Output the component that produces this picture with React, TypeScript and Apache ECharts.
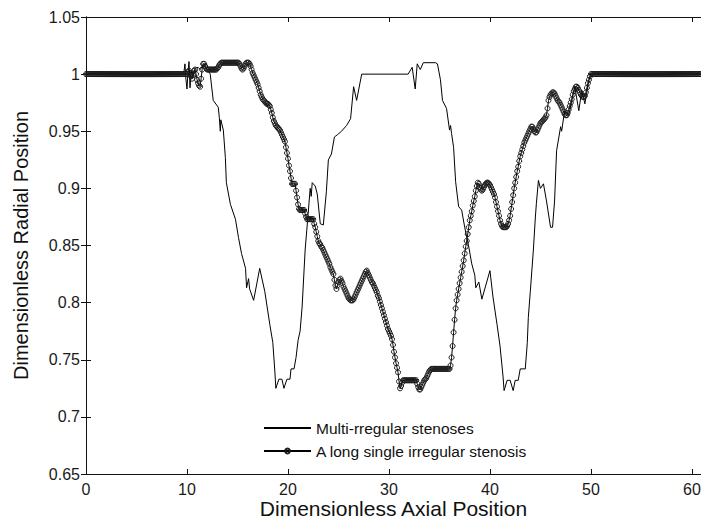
import React, { useEffect, useRef } from "react";
import * as echarts from "echarts";

// ---------- data ----------
const xTicks = [0, 10, 20, 30, 40, 50, 60];
const yTicks = [0.65, 0.7, 0.75, 0.8, 0.85, 0.9, 0.95, 1, 1.05];

const seriesNames = ["Multi-rregular stenoses", "A long single irregular stenosis"];

// Multi-irregular stenoses: read keypoints [x, y]
const multiX = [
  0, 9.6, 9.7, 9.8, 9.9, 10.0, 10.1, 10.2, 10.3, 10.4, 10.5, 10.6, 10.8, 11.1, 11.3, 11.6, 11.8, 12.1, 12.3, 12.6,
  13.1, 13.2, 13.3, 13.35, 13.6, 13.8, 13.9, 14.3, 14.8, 15.1, 15.4, 15.8, 15.9, 16.1, 16.2, 16.6, 17.2, 17.7, 18.2, 18.5,
  18.7, 18.8, 19.1, 19.4, 19.6, 19.9, 20.2, 20.3, 20.6, 20.8, 21.0, 21.2, 21.4, 21.7, 22.0, 22.2, 22.3, 22.4, 22.7, 22.9,
  23.2, 23.5, 23.8, 24.0, 24.3, 24.6, 24.9, 25.3, 25.8, 26.2, 26.5, 26.8, 27.3, 31.9, 32.3, 32.6, 32.8, 33.1, 33.4, 34.6,
  34.8, 35.1, 35.3, 35.7, 36.0, 36.1, 36.2, 36.4, 36.6, 36.9, 37.2, 37.5, 37.9, 38.2, 38.5, 38.6, 38.9, 39.2, 40.0, 40.3,
  40.7, 41.0, 41.3, 41.4, 41.7, 42.0, 42.3, 42.5, 42.8, 43.0, 43.5, 43.7, 43.8, 44.0, 44.3, 44.5, 44.6, 44.8, 45.0, 45.3,
  45.6, 46.0, 46.2, 46.4, 46.6, 47.0, 47.1, 47.4, 47.8, 48.4, 48.8, 49.1, 49.4, 49.8, 50.1, 60.9,
];
const multiY = [
  1, 1, 1.002, 1.009, 0.995, 0.987, 1.002, 1.011, 0.988, 1.0, 1.003, 0.998, 1.005, 1.006, 1.004, 1.008, 1.006, 1.003, 1.0, 0.977,
  0.971, 0.962, 0.95, 0.96, 0.951, 0.927, 0.905, 0.886, 0.873, 0.857, 0.843, 0.83, 0.813, 0.821, 0.812, 0.802, 0.83, 0.81, 0.781, 0.765,
  0.74, 0.725, 0.733, 0.733, 0.725, 0.733, 0.733, 0.742, 0.742, 0.752, 0.767, 0.775, 0.796, 0.846, 0.878, 0.9, 0.893, 0.905, 0.902, 0.895,
  0.869, 0.868, 0.897, 0.925, 0.93, 0.945, 0.947, 0.95, 0.955, 0.961, 0.989, 0.977, 1.0, 1.0, 1.006, 0.987, 1.009, 1.004, 1.01, 1.01,
  1.009, 0.995, 0.977, 0.97, 0.951, 0.955, 0.948, 0.936, 0.906, 0.884, 0.881, 0.866, 0.849, 0.834, 0.824, 0.813, 0.818, 0.803, 0.828, 0.805,
  0.781, 0.762, 0.735, 0.723, 0.732, 0.732, 0.723, 0.732, 0.732, 0.742, 0.742, 0.765, 0.787, 0.81, 0.846, 0.875, 0.887, 0.907, 0.9, 0.904,
  0.889, 0.866, 0.866, 0.889, 0.933, 0.954, 0.95, 0.968, 0.964, 0.989, 0.968, 0.986, 0.974, 0.995, 1.0, 1.0,
];

// Long single irregular stenosis: sampled every 0.1 from x = 0
const singleStep = 0.1;
const singleLeftFlat = [
  1, 1, 1, 1, 1, 1, 1, 1, 1, 1,
  1, 1, 1, 1, 1, 1, 1, 1, 1, 1,
  1, 1, 1, 1, 1, 1, 1, 1, 1, 1,
  1, 1, 1, 1, 1, 1, 1, 1, 1, 1,
  1, 1, 1, 1, 1, 1, 1, 1, 1, 1,
  1, 1, 1, 1, 1, 1, 1, 1, 1, 1,
  1, 1, 1, 1, 1, 1, 1, 1, 1, 1,
  1, 1, 1, 1, 1, 1, 1, 1, 1, 1,
  1, 1, 1, 1, 1, 1, 1, 1, 1, 1,
  1, 1, 1, 1, 1, 1, 1, 1, 1, 1,
]; // x 0.0 – 9.9
const singleMiddle = [
  1.000, 1.002, 1.003, 1.001, 0.998, 0.996, 0.999, 1.003, 1.004, 1.000,
  0.995, 0.992, 0.990, 0.989, 0.996, 1.004, 1.009, 1.009, 1.007, 1.005,
  1.004, 1.004, 1.004, 1.004, 1.004, 1.004, 1.004, 1.004, 1.004, 1.004,
  1.005, 1.006, 1.008, 1.009, 1.010, 1.010, 1.010, 1.010, 1.010, 1.010,
  1.010, 1.010, 1.010, 1.010, 1.010, 1.010, 1.010, 1.010, 1.010, 1.010,
  1.010, 1.010, 1.009, 1.007, 1.005, 1.004, 1.005, 1.007, 1.009, 1.010,
  1.010, 1.010, 1.009, 1.007, 1.004, 1.001, 0.999, 0.997, 0.995, 0.993,
  0.991, 0.988, 0.985, 0.982, 0.980, 0.978, 0.977, 0.976, 0.975, 0.974,
  0.974, 0.973, 0.972, 0.969, 0.966, 0.962, 0.959, 0.957, 0.955, 0.954,
  0.953, 0.952, 0.951, 0.949, 0.947, 0.945, 0.943, 0.941, 0.936, 0.931,
  0.926, 0.920, 0.915, 0.909, 0.904, 0.904, 0.904, 0.904, 0.898, 0.892,
  0.886, 0.882, 0.881, 0.881, 0.881, 0.881, 0.881, 0.878, 0.875, 0.873,
  0.873, 0.873, 0.873, 0.873, 0.873, 0.873, 0.869, 0.866, 0.862, 0.858,
  0.854, 0.852, 0.851, 0.849, 0.848, 0.846, 0.844, 0.842, 0.840, 0.838,
  0.836, 0.834, 0.831, 0.829, 0.827, 0.825, 0.820, 0.815, 0.812, 0.815,
  0.818, 0.820, 0.821, 0.819, 0.817, 0.814, 0.812, 0.810, 0.808, 0.806,
  0.804, 0.803, 0.802, 0.802, 0.802, 0.803, 0.805, 0.807, 0.809, 0.811,
  0.813, 0.815, 0.817, 0.819, 0.821, 0.823, 0.825, 0.827, 0.828, 0.826,
  0.824, 0.822, 0.820, 0.818, 0.817, 0.815, 0.813, 0.811, 0.809, 0.806,
  0.804, 0.801, 0.798, 0.795, 0.792, 0.789, 0.786, 0.783, 0.780, 0.777,
  0.775, 0.773, 0.771, 0.768, 0.763, 0.757, 0.752, 0.747, 0.743, 0.739,
  0.731, 0.725, 0.727, 0.730, 0.732, 0.732, 0.732, 0.732, 0.732, 0.732,
  0.732, 0.732, 0.732, 0.732, 0.732, 0.732, 0.732, 0.732, 0.729, 0.726,
  0.724, 0.724, 0.726, 0.728, 0.730, 0.732, 0.733, 0.734, 0.736, 0.738,
  0.740, 0.741, 0.742, 0.742, 0.742, 0.742, 0.742, 0.742, 0.742, 0.742,
  0.742, 0.742, 0.742, 0.742, 0.742, 0.742, 0.742, 0.742, 0.742, 0.742,
  0.742, 0.745, 0.752, 0.762, 0.774, 0.785, 0.795, 0.802, 0.807, 0.812,
  0.817, 0.822, 0.827, 0.832, 0.837, 0.843, 0.849, 0.854, 0.860, 0.866,
  0.872, 0.876, 0.880, 0.885, 0.889, 0.893, 0.898, 0.902, 0.905, 0.904,
  0.901, 0.899, 0.898, 0.899, 0.901, 0.903, 0.904, 0.905, 0.905, 0.904,
  0.903, 0.901, 0.899, 0.897, 0.895, 0.892, 0.888, 0.884, 0.880, 0.876,
  0.872, 0.869, 0.867, 0.866, 0.866, 0.866, 0.866, 0.867, 0.869, 0.872,
  0.876, 0.882, 0.888, 0.894, 0.900, 0.905, 0.910, 0.915, 0.919, 0.924,
  0.928, 0.931, 0.934, 0.937, 0.940, 0.942, 0.944, 0.946, 0.948, 0.950,
  0.952, 0.954, 0.954, 0.952, 0.950, 0.949, 0.949, 0.951, 0.953, 0.955,
  0.957, 0.958, 0.959, 0.960, 0.961, 0.962, 0.964, 0.970, 0.977, 0.980,
  0.982, 0.983, 0.984, 0.984, 0.983, 0.981, 0.979, 0.977, 0.976, 0.975,
  0.973, 0.971, 0.969, 0.967, 0.965, 0.964, 0.964, 0.966, 0.969, 0.972,
  0.975, 0.978, 0.982, 0.985, 0.987, 0.989, 0.989, 0.988, 0.986, 0.984,
  0.982, 0.981, 0.980, 0.980, 0.981, 0.984, 0.988, 0.992, 0.995, 0.998,
  1.000,
]; // x 10.0 – 50.0
const singleRightFlat = [
  1, 1, 1, 1, 1, 1, 1, 1, 1, 1,
  1, 1, 1, 1, 1, 1, 1, 1, 1, 1,
  1, 1, 1, 1, 1, 1, 1, 1, 1, 1,
  1, 1, 1, 1, 1, 1, 1, 1, 1, 1,
  1, 1, 1, 1, 1, 1, 1, 1, 1, 1,
  1, 1, 1, 1, 1, 1, 1, 1, 1, 1,
  1, 1, 1, 1, 1, 1, 1, 1, 1, 1,
  1, 1, 1, 1, 1, 1, 1, 1, 1, 1,
  1, 1, 1, 1, 1, 1, 1, 1, 1, 1,
  1, 1, 1, 1, 1, 1, 1, 1, 1, 1,
  1, 1, 1, 1, 1, 1, 1, 1, 1,
]; // x 50.1 – 60.9

const X_MIN = 0;
const X_MAX = 60.9;
const Y_MIN = 0.65;
const Y_MAX = 1.05;

export default function App() {
  const ref = useRef<HTMLDivElement>(null);

  useEffect(() => {
    document.body.style.margin = "0";
    if (!ref.current) return;
    const chart = echarts.init(ref.current, undefined, { renderer: "svg" });

    const multiData = multiX.map((x, i) => [x, multiY[i]]);
    const singleAll = [...singleLeftFlat, ...singleMiddle, ...singleRightFlat];
    const singleData = singleAll.map((y, i) => [Math.round(i * singleStep * 10) / 10, y]);

    const font = "'Liberation Sans', Arial, Helvetica, sans-serif";
    const axisLine = { show: true, lineStyle: { color: "#111", width: 1 } };
    const axisTick = { show: true, inside: true, length: 5, lineStyle: { color: "#111", width: 1 } };

    chart.setOption({
      animation: false,
      backgroundColor: "#fff",
      textStyle: { fontFamily: font },
      grid: {
        left: 86,
        top: 17,
        width: 615,
        height: 457,
        containLabel: false,
        outerBoundsMode: "none",
      },
      legend: {
        orient: "vertical",
        left: 263,
        top: 420,
        padding: 0,
        itemWidth: 47,
        itemHeight: 6,
        itemGap: 7,
        textStyle: { fontFamily: font, fontSize: 15.5, color: "#111" },
        data: [
          { name: seriesNames[0], itemStyle: { opacity: 0 } },
          { name: seriesNames[1] },
        ],
      },
      xAxis: [
        {
          type: "value",
          position: "bottom",
          min: X_MIN,
          max: X_MAX,
          interval: 10,
          axisLine,
          axisTick,
          splitLine: { show: false },
          axisLabel: {
            fontSize: 16,
            lineHeight: 16,
            color: "#1a1a1a",
            margin: 7,
            showMaxLabel: false,
            formatter: (v: number) => (xTicks.includes(v) ? String(v) : ""),
          },
          name: "Dimensionless Axial Position",
          nameLocation: "middle",
          nameGap: 24,
          nameMoveOverlap: false,
          nameTextStyle: { fontSize: 21, color: "#111", fontFamily: font, lineHeight: 21 },
        },
        {
          type: "value",
          position: "top",
          min: X_MIN,
          max: X_MAX,
          interval: 10,
          axisLine,
          axisTick,
          splitLine: { show: false },
          axisLabel: { show: false },
        },
      ],
      yAxis: [
        {
          type: "value",
          position: "left",
          min: Y_MIN,
          max: Y_MAX,
          interval: 0.05,
          axisLine,
          axisTick,
          splitLine: { show: false },
          axisLabel: {
            fontSize: 16,
            color: "#1a1a1a",
            margin: 6,
            formatter: (v: number) => {
              const t = yTicks.find((k) => Math.abs(k - v) < 1e-6);
              return t === undefined ? "" : String(t);
            },
          },
          name: "Dimensionless Radial Position",
          nameLocation: "middle",
          nameGap: 55,
          nameMoveOverlap: false,
          nameTextStyle: { fontSize: 20, color: "#111", fontFamily: font },
        },
        {
          type: "value",
          position: "right",
          min: Y_MIN,
          max: Y_MAX,
          interval: 0.05,
          axisLine,
          axisTick,
          splitLine: { show: false },
          axisLabel: { show: false },
        },
      ],
      series: [
        {
          name: seriesNames[0],
          type: "line",
          data: multiData,
          symbol: "none",
          lineStyle: { color: "#000", width: 1 },
          itemStyle: { color: "#000" },
          z: 2,
        },
        {
          name: seriesNames[1],
          type: "line",
          data: singleData,
          symbol: "circle",
          symbolSize: 5,
          showAllSymbol: true,
          lineStyle: { color: "#000", width: 1 },
          itemStyle: { color: "rgba(0,0,0,0)", borderColor: "#1a1a1a", borderWidth: 1 },
          z: 3,
        },
      ],
    });

    return () => chart.dispose();
  }, []);

  return <div ref={ref} style={{ width: 701, height: 522 }} />;
}
